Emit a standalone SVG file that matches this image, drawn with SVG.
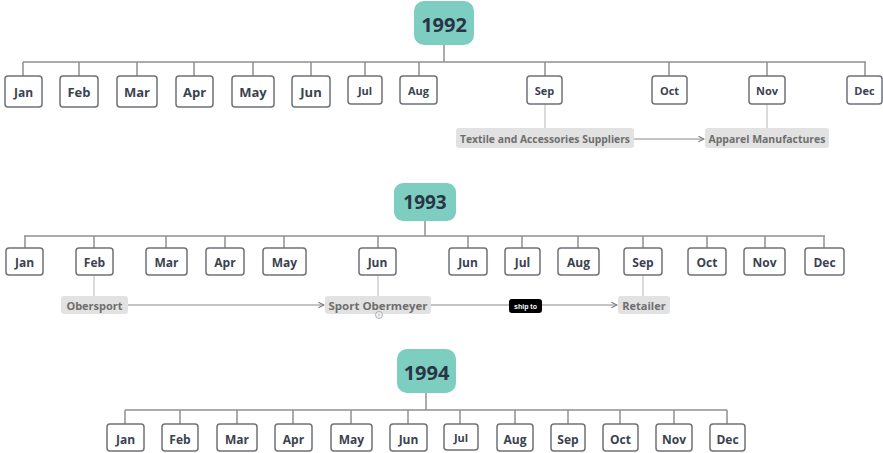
<svg xmlns="http://www.w3.org/2000/svg" width="883" height="453" viewBox="0 0 883 453">
<defs>
<style>
.year rect{fill:#7dcdc0;}
.year text{font-family:"Open Sans","Noto Sans",sans-serif;font-weight:bold;font-size:20px;fill:#2b3446;text-anchor:middle;dominant-baseline:central;}
.m rect{fill:#fff;stroke:#6e7178;stroke-width:1.5;}
.m text{font-family:"Open Sans","Noto Sans",sans-serif;font-weight:bold;font-size:12px;fill:#3a4250;text-anchor:middle;dominant-baseline:central;}
.lbl rect{fill:#e2e2e2;}
.lbl text{font-family:"Open Sans","Noto Sans",sans-serif;font-weight:bold;font-size:11px;fill:#6e6e6e;text-anchor:middle;dominant-baseline:central;}
.bus{stroke:#8f9094;stroke-width:1.5;fill:none;}
.sub{stroke:#c4c4c4;stroke-width:1.2;fill:none;}
.arr{stroke:#8a8a8a;stroke-width:1.2;fill:none;marker-end:url(#ah);}
</style>
<marker id="ah" viewBox="0 0 10 10" refX="9" refY="5" markerWidth="7" markerHeight="7" orient="auto" markerUnits="userSpaceOnUse">
<path d="M1,1 L9,5 L1,9" fill="none" stroke="#7a7a7a" stroke-width="1.5"/>
</marker>
</defs>
<g id="connectors">
<!-- 1992 -->
<path class="bus" d="M444,45V62M23,62H866M23,62V76M79,62V76M137,62V76M194,62V76M253,62V76M311,62V76M365,62V76M419,62V76M545,62V76M669,62V76M767,62V76M865,62V76"/>
<path class="sub" d="M545,104V128M767,104V128"/>
<path class="arr" d="M634,139H704"/>
<!-- 1993 -->
<path class="bus" d="M425,221V236M24,236H825M25,236V248M94,236V248M166,236V248M225,236V248M284,236V248M378,236V248M468,236V248M522,236V248M578,236V248M643,236V248M707,236V248M765,236V248M824,236V248"/>
<path class="sub" d="M94,275V296M378,275V296M643,275V296"/>
<path class="arr" d="M128,305H324"/>
<path class="arr" d="M431,305H617"/>
<!-- 1994 -->
<path class="bus" d="M426,393V410M125,410H727M125,410V424M180,410V424M237,410V424M293,410V424M351,410V424M408,410V424M460,410V424M515,410V424M568,410V424M620,410V424M674,410V424M727,410V424"/>
</g>
<g id="ship-to-label">
<rect x="509" y="299" width="33" height="14" rx="3" fill="#000"/>
<text x="525.5" y="306" font-family="Liberation Sans,Arial,sans-serif" font-size="7px" font-weight="bold" fill="#fff" text-anchor="middle" dominant-baseline="central">ship to</text>
</g>
<!-- 1992 -->
<g id="y1992" class="year"><rect x="414" y="1" width="60" height="44" rx="10"/><text x="444" y="24">1992</text></g>
<g id="m1992-jan" class="m"><rect x="5" y="76" width="37" height="31" rx="3"/><text x="23.5" y="92" font-size="13px">Jan</text></g>
<g id="m1992-feb" class="m"><rect x="60" y="76" width="38" height="31" rx="3"/><text x="79" y="92" style="font-size:13px">Feb</text></g>
<g id="m1992-mar" class="m"><rect x="117" y="76" width="40" height="31" rx="3"/><text x="137" y="92" style="font-size:13px">Mar</text></g>
<g id="m1992-apr" class="m"><rect x="176" y="76" width="37" height="31" rx="3"/><text x="194.5" y="92" style="font-size:13px">Apr</text></g>
<g id="m1992-may" class="m"><rect x="232" y="76" width="42" height="31" rx="3"/><text x="253" y="92" style="font-size:13px">May</text></g>
<g id="m1992-jun" class="m"><rect x="292" y="76" width="38" height="31" rx="3"/><text x="311" y="92" style="font-size:13px">Jun</text></g>
<g id="m1992-jul" class="m"><rect x="348" y="76" width="34" height="28" rx="3"/><text x="365" y="90" style="font-size:11px">Jul</text></g>
<g id="m1992-aug" class="m"><rect x="400" y="76" width="37" height="28" rx="3"/><text x="418.5" y="90" style="font-size:11px">Aug</text></g>
<g id="m1992-sep" class="m"><rect x="527" y="76" width="35" height="28" rx="3"/><text x="544.5" y="90" style="font-size:11px">Sep</text></g>
<g id="m1992-oct" class="m"><rect x="652" y="76" width="35" height="28" rx="3"/><text x="669.5" y="90" style="font-size:11px">Oct</text></g>
<g id="m1992-nov" class="m"><rect x="749" y="76" width="36" height="28" rx="3"/><text x="767" y="90" style="font-size:11px">Nov</text></g>
<g id="m1992-dec" class="m"><rect x="847" y="76" width="35" height="28" rx="3"/><text x="864.5" y="90" style="font-size:11px">Dec</text></g>
<g id="textile" class="lbl"><rect x="456" y="128" width="178" height="20" rx="3"/><text x="545" y="138.5" textLength="170" lengthAdjust="spacingAndGlyphs">Textile and Accessories Suppliers</text></g>
<g id="apparel" class="lbl"><rect x="705" y="128" width="124" height="20" rx="3"/><text x="767" y="138.5" textLength="117" lengthAdjust="spacingAndGlyphs">Apparel Manufactures</text></g>
<!-- 1993 -->
<g id="y1993" class="year"><rect x="394" y="183" width="62" height="38" rx="9"/><text x="425" y="202" style="font-size:19px">1993</text></g>
<g id="m1993-jan" class="m"><rect x="6" y="248" width="37" height="27" rx="3"/><text x="24.5" y="262">Jan</text></g>
<g id="m1993-feb" class="m"><rect x="76" y="248" width="37" height="27" rx="3"/><text x="94.5" y="262">Feb</text></g>
<g id="m1993-mar" class="m"><rect x="146" y="248" width="41" height="27" rx="3"/><text x="166.5" y="262">Mar</text></g>
<g id="m1993-apr" class="m"><rect x="206" y="248" width="38" height="27" rx="3"/><text x="225" y="262">Apr</text></g>
<g id="m1993-may" class="m"><rect x="263" y="248" width="43" height="27" rx="3"/><text x="284.5" y="262">May</text></g>
<g id="m1993-jun" class="m"><rect x="359" y="248" width="37" height="27" rx="3"/><text x="377.5" y="262">Jun</text></g>
<g id="m1993-jun2" class="m"><rect x="449" y="248" width="38" height="27" rx="3"/><text x="468" y="262">Jun</text></g>
<g id="m1993-jul" class="m"><rect x="505" y="248" width="35" height="27" rx="3"/><text x="522.5" y="262">Jul</text></g>
<g id="m1993-aug" class="m"><rect x="558" y="248" width="41" height="27" rx="3"/><text x="578.5" y="262">Aug</text></g>
<g id="m1993-sep" class="m"><rect x="624" y="248" width="38" height="27" rx="3"/><text x="643" y="262">Sep</text></g>
<g id="m1993-oct" class="m"><rect x="688" y="248" width="38" height="27" rx="3"/><text x="707" y="262">Oct</text></g>
<g id="m1993-nov" class="m"><rect x="744" y="248" width="41" height="27" rx="3"/><text x="764.5" y="262">Nov</text></g>
<g id="m1993-dec" class="m"><rect x="805" y="248" width="39" height="27" rx="3"/><text x="824.5" y="262">Dec</text></g>
<g id="obersport" class="lbl"><rect x="61" y="296" width="67" height="18" rx="3"/><text x="94.5" y="305.5">Obersport</text></g>
<g id="sport-obermeyer" class="lbl"><rect x="325" y="296" width="106" height="18" rx="3"/><text x="378" y="305.5" textLength="99" lengthAdjust="spacingAndGlyphs">Sport Obermeyer</text>
<circle cx="379" cy="315" r="3.5" fill="#f4f4f4" stroke="#9a9a9a" stroke-width="0.8"/><path d="M379,313.5V316.5" stroke="#9a9a9a" stroke-width="0.7"/></g>
<g id="retailer" class="lbl"><rect x="618" y="296" width="52" height="18" rx="3"/><text x="644" y="305.5">Retailer</text></g>
<!-- 1994 -->
<g id="y1994" class="year"><rect x="397" y="349" width="59" height="44" rx="10"/><text x="426.5" y="372">1994</text></g>
<g id="m1994-jan" class="m"><rect x="107" y="424" width="37" height="27" rx="3"/><text x="125.5" y="439">Jan</text></g>
<g id="m1994-feb" class="m"><rect x="162" y="424" width="36" height="27" rx="3"/><text x="180" y="439">Feb</text></g>
<g id="m1994-mar" class="m"><rect x="217" y="424" width="40" height="27" rx="3"/><text x="237" y="439">Mar</text></g>
<g id="m1994-apr" class="m"><rect x="275" y="424" width="37" height="27" rx="3"/><text x="293.5" y="439">Apr</text></g>
<g id="m1994-may" class="m"><rect x="331" y="424" width="41" height="27" rx="3"/><text x="351.5" y="439">May</text></g>
<g id="m1994-jun" class="m"><rect x="390" y="424" width="37" height="27" rx="3"/><text x="408.5" y="439">Jun</text></g>
<g id="m1994-jul" class="m"><rect x="444" y="424" width="34" height="26" rx="3"/><text x="461" y="437" style="font-size:11px">Jul</text></g>
<g id="m1994-aug" class="m"><rect x="497" y="424" width="36" height="27" rx="3"/><text x="515" y="439">Aug</text></g>
<g id="m1994-sep" class="m"><rect x="551" y="424" width="34" height="27" rx="3"/><text x="568" y="439">Sep</text></g>
<g id="m1994-oct" class="m"><rect x="603" y="424" width="35" height="27" rx="3"/><text x="620.5" y="439">Oct</text></g>
<g id="m1994-nov" class="m"><rect x="656" y="424" width="36" height="27" rx="3"/><text x="674" y="439">Nov</text></g>
<g id="m1994-dec" class="m"><rect x="710" y="424" width="35" height="27" rx="3"/><text x="727.5" y="439">Dec</text></g>
</svg>
